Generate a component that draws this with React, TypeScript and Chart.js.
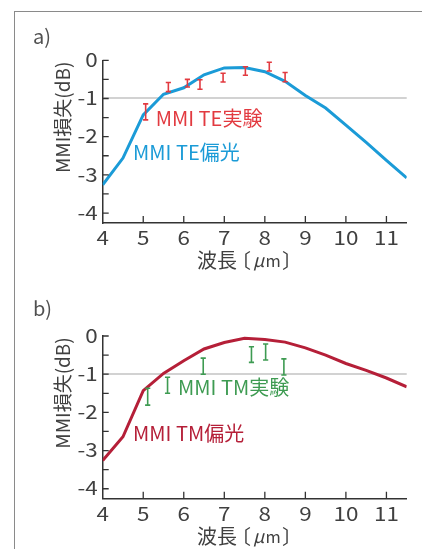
import React, { useEffect, useRef } from "react";
import { Chart, registerables } from "chart.js";
Chart.register(...registerables);

// ---- data ----
const wavelengths = [4, 4.5, 5, 5.5, 6, 6.5, 7, 7.5, 8, 8.5, 9, 9.5, 10, 10.5, 11, 11.5];
const teLoss = [-3.26, -2.56, -1.43, -0.89, -0.72, -0.38, -0.2, -0.19, -0.3, -0.55, -0.92, -1.25, -1.7, -2.15, -2.62, -3.08];
const tmLoss = [-3.26, -2.64, -1.43, -0.98, -0.65, -0.34, -0.17, -0.06, -0.09, -0.16, -0.31, -0.5, -0.72, -0.9, -1.1, -1.33];

const teExpX = [5.06, 5.62, 6.09, 6.4, 6.97, 7.52, 8.11, 8.5];
const teExpLow = [-1.56, -0.82, -0.7, -0.76, -0.57, -0.39, -0.28, -0.56];
const teExpHigh = [-1.14, -0.58, -0.5, -0.51, -0.34, -0.17, -0.05, -0.32];

const tmExpX = [5.11, 5.6, 6.48, 7.67, 8.02, 8.47];
const tmExpLow = [-1.81, -1.5, -1.0, -0.69, -0.63, -1.02];
const tmExpHigh = [-1.37, -1.08, -0.58, -0.28, -0.21, -0.6];

const xTicks = [4, 5, 6, 7, 8, 9, 10, 11];
const yTicks = [0, -1, -2, -3, -4];
const yMinorTicks = [0, -0.5, -1, -1.5, -2, -2.5, -3, -3.5, -4];

const FONT = '"Noto Sans CJK JP", "Noto Sans", sans-serif';
const TEXT = "#404040";

type Panel = {
  letter: string;
  letterY: number;
  line: number[];
  lineColor: string;
  lineLabel: string;
  lineLabelAt: [number, number];
  expX: number[];
  expLow: number[];
  expHigh: number[];
  expColor: string;
  expLabel: string;
  expLabelAt: [number, number];
  top: number;
  height: number;
  padTop: number;
};

const panels: Panel[] = [
  {
    letter: "a)",
    letterY: 36.5,
    line: teLoss,
    lineColor: "#1b9bd7",
    lineLabel: "MMI TE偏光",
    lineLabelAt: [4.75, -2.42],
    expX: teExpX,
    expLow: teExpLow,
    expHigh: teExpHigh,
    expColor: "#e23a40",
    expLabel: "MMI TE実験",
    expLabelAt: [5.31, -1.51],
    top: 0,
    height: 275,
    padTop: 60.3,
  },
  {
    letter: "b)",
    letterY: 32.5,
    line: tmLoss,
    lineColor: "#b51f38",
    lineLabel: "MMI TM偏光",
    lineLabelAt: [4.75, -2.54],
    expX: tmExpX,
    expLow: tmExpLow,
    expHigh: tmExpHigh,
    expColor: "#3e9b52",
    expLabel: "MMI TM実験",
    expLabelAt: [5.86, -1.34],
    top: 276,
    height: 273,
    padTop: 60,
  },
];

function stretchText(ctx: CanvasRenderingContext2D, s: string, x: number, y: number, align: "center" | "right", k: number) {
  ctx.save();
  ctx.translate(x, y);
  ctx.scale(k, 1);
  ctx.textAlign = align;
  ctx.fillText(s, 0, 0);
  ctx.restore();
}

// draw text so that its ink starts at inkLeft
function inkText(ctx: CanvasRenderingContext2D, s: string, inkLeft: number, y: number, font: string) {
  ctx.font = font;
  ctx.textAlign = "left";
  const m = ctx.measureText(s);
  ctx.fillText(s, inkLeft + m.actualBoundingBoxLeft, y);
}

function makeChart(canvas: HTMLCanvasElement, p: Panel) {
  const bottomY = p.padTop + 162.3;
  const decor = {
    id: "decor",
    afterDraw(chart: any) {
      const ctx = chart.ctx as CanvasRenderingContext2D;
      const xs = chart.scales.x;
      const ys = chart.scales.y;
      const area = chart.chartArea;
      ctx.save();
      // inward tick marks
      ctx.strokeStyle = "#333";
      ctx.lineWidth = 1.3;
      ctx.beginPath();
      xTicks.forEach((v) => {
        if (v === xs.min) return;
        const px = xs.getPixelForValue(v);
        ctx.moveTo(px, area.bottom);
        ctx.lineTo(px, area.bottom - 6.5);
      });
      yMinorTicks.forEach((v) => {
        const py = ys.getPixelForValue(v);
        ctx.moveTo(area.left, py);
        ctx.lineTo(area.left + 6, py);
      });
      ctx.stroke();

      // tick labels
      ctx.fillStyle = TEXT;
      ctx.font = `19px ${FONT}`;
      ctx.textBaseline = "middle";
      xTicks.forEach((v) => {
        stretchText(ctx, String(v), xs.getPixelForValue(v), area.bottom + 15.5, "center", 1.18);
      });
      yTicks.forEach((v) => {
        stretchText(ctx, String(v), area.left - 5, ys.getPixelForValue(v) - 0.5, "right", 1.18);
      });

      // error bars
      ctx.strokeStyle = p.expColor;
      ctx.lineWidth = 1.6;
      ctx.beginPath();
      p.expX.forEach((x, i) => {
        const px = xs.getPixelForValue(x);
        const y1 = ys.getPixelForValue(p.expLow[i]);
        const y2 = ys.getPixelForValue(p.expHigh[i]);
        ctx.moveTo(px, y1);
        ctx.lineTo(px, y2);
        ctx.moveTo(px - 2.6, y1);
        ctx.lineTo(px + 2.6, y1);
        ctx.moveTo(px - 2.6, y2);
        ctx.lineTo(px + 2.6, y2);
      });
      ctx.stroke();

      // series labels
      ctx.textBaseline = "middle";
      ctx.textAlign = "left";
      ctx.font = `20px ${FONT}`;
      ctx.fillStyle = p.expColor;
      ctx.fillText(p.expLabel, xs.getPixelForValue(p.expLabelAt[0]), ys.getPixelForValue(p.expLabelAt[1]));
      ctx.fillStyle = p.lineColor;
      ctx.fillText(p.lineLabel, xs.getPixelForValue(p.lineLabelAt[0]), ys.getPixelForValue(p.lineLabelAt[1]));

      // panel letter
      ctx.fillStyle = "#505050";
      ctx.font = `20px ${FONT}`;
      ctx.fillText(p.letter, 33, p.letterY);

      // x axis title: 波長〔μm〕
      ctx.fillStyle = TEXT;
      const ty = area.bottom + 38;
      inkText(ctx, "波長", 197, ty, `20px ${FONT}`);
      inkText(ctx, "〔", 245, ty, `20px ${FONT}`);
      inkText(ctx, "μ", 253, ty, `italic 18px ${FONT}`);
      inkText(ctx, "m", 266.5, ty, `16.5px ${FONT}`);
      inkText(ctx, "〕", 282, ty, `20px ${FONT}`);

      // y axis title
      ctx.save();
      ctx.translate(63, area.top + 57);
      ctx.rotate(-Math.PI / 2);
      ctx.textAlign = "center";
      ctx.font = `19px ${FONT}`;
      ctx.fillText("MMI損失(dB)", 0, 0);
      ctx.restore();
      ctx.restore();
    },
  };

  return new Chart(canvas, {
    type: "line",
    data: {
      labels: wavelengths,
      datasets: [
        {
          data: wavelengths.map((x, i) => ({ x, y: p.line[i] })),
          borderColor: p.lineColor,
          borderWidth: 3,
          pointRadius: 0,
          tension: 0,
          fill: false,
        },
      ],
    },
    options: {
      animation: false,
      responsive: false,
      events: [],
      layout: { padding: { left: 42.7, right: 15.3, top: p.padTop, bottom: 0 } },
      plugins: { legend: { display: false }, tooltip: { enabled: false } },
      scales: {
        x: {
          type: "linear",
          min: 4,
          max: 11.5,
          afterBuildTicks: (s: any) => {
            s.ticks = xTicks.map((v) => ({ value: v }));
          },
          afterFit: (s: any) => {
            s.height = p.height - bottomY;
          },
          grid: { color: "rgba(0,0,0,0)", drawTicks: false },
          border: { display: true, color: "#333", width: 1.5 },
          ticks: { display: false },
        },
        y: {
          type: "linear",
          min: -4.25,
          max: 0,
          afterBuildTicks: (s: any) => {
            s.ticks = yTicks.map((v) => ({ value: v }));
          },
          afterFit: (s: any) => {
            s.width = 60;
          },
          grid: {
            drawTicks: false,
            color: (c: any) => (c.tick && c.tick.value === -1 ? "#d2d2d2" : "rgba(0,0,0,0)"),
            lineWidth: 2,
          },
          border: { display: true, color: "#333", width: 1.5 },
          ticks: { display: false },
        },
      },
    },
    plugins: [decor],
  } as any);
}

function PanelChart({ p }: { p: Panel }) {
  const ref = useRef<HTMLCanvasElement | null>(null);
  useEffect(() => {
    if (!ref.current) return;
    const chart = makeChart(ref.current, p);
    return () => chart.destroy();
  }, [p]);
  return (
    <canvas
      ref={ref}
      width={422}
      height={p.height}
      style={{ position: "absolute", left: 0, top: p.top, width: 422, height: p.height }}
    />
  );
}

export default function App() {
  return (
    <div
      style={{
        position: "absolute",
        left: 0,
        top: 0,
        width: 422,
        height: 549,
        overflow: "hidden",
        background: "#fff",
      }}
    >
      <div
        style={{
          position: "absolute",
          left: 13.5,
          top: 10.5,
          right: -10,
          bottom: -10,
          borderLeft: "1.5px solid #8a8a8a",
          borderTop: "1.5px solid #8a8a8a",
        }}
      />
      {panels.map((p) => (
        <PanelChart key={p.letter} p={p} />
      ))}
    </div>
  );
}
